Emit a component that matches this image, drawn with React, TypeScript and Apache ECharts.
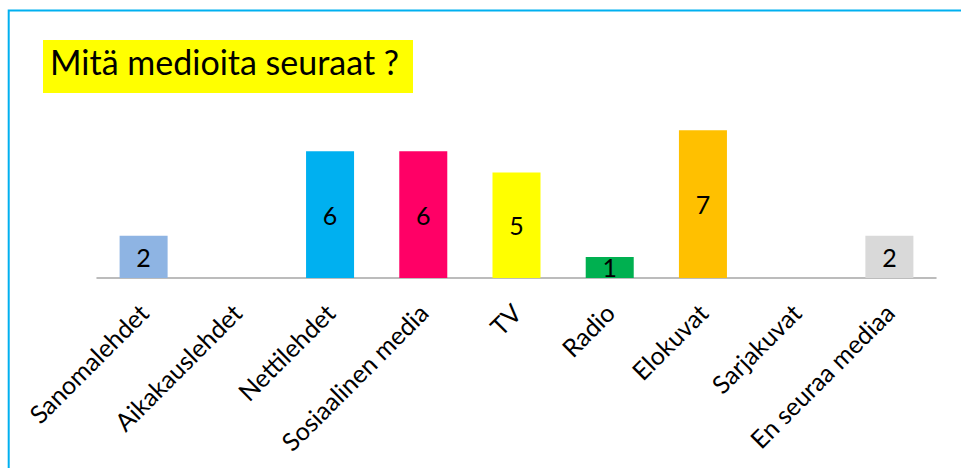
import React, { useEffect, useRef } from "react";
import * as echarts from "echarts";

const categories = [
  "Sanomalehdet",
  "Aikakauslehdet",
  "Nettilehdet",
  "Sosiaalinen media",
  "TV",
  "Radio",
  "Elokuvat",
  "Sarjakuvat",
  "En seuraa mediaa",
];
const values = [2, 0, 6, 6, 5, 1, 7, 0, 2];
const colors = [
  "#8EB4E3",
  "#8EB4E3",
  "#00B0F0",
  "#FF0066",
  "#FFFF00",
  "#00B050",
  "#FFC000",
  "#D9D9D9",
  "#D9D9D9",
];
const titleText = "Mitä medioita seuraat ?";

export default function App() {
  const ref = useRef<HTMLDivElement>(null);
  useEffect(() => {
    if (!ref.current) return;
    const chart = echarts.init(ref.current, null, { renderer: "svg" });
    chart.setOption({
      animation: false,
      backgroundColor: "#ffffff",
      title: {
        text: titleText,
        left: 50,
        top: 44,
        padding: 0,
        textStyle: {
          fontFamily: "Lato",
          fontSize: 34,
          fontWeight: "normal",
          color: "#000000",
        },
        z: 10,
      },
      graphic: [
        {
          type: "rect",
          shape: { x: 43, y: 40, width: 370, height: 53 },
          style: { fill: "#FFFF00" },
          z: 1,
          silent: true,
        },
        {
          type: "polyline",
          shape: { points: [[8.7, 468], [8.7, 10.5], [961, 10.5]] },
          style: { stroke: "#00B0F0", lineWidth: 2, fill: "none" },
          z: 1,
          silent: true,
        },
      ],
      grid: { left: 97, right: 25, top: 109, bottom: 190 },
      xAxis: {
        type: "category",
        data: categories,
        axisLine: { lineStyle: { color: "#A6A6A6", width: 1.5 } },
        axisTick: { show: false },
        axisLabel: {
          interval: 0,
          rotate: 45,
          margin: 30,
          fontFamily: "Lato",
          fontSize: 25,
          color: "#000000",
        },
      },
      yAxis: {
        type: "value",
        min: 0,
        max: 8,
        show: false,
        splitLine: { show: false },
      },
      series: [
        {
          type: "bar",
          barWidth: "51.5%",
          data: values.map((v, i) => ({
            value: v,
            itemStyle: { color: colors[i] },
          })),
          label: {
            show: true,
            position: "inside",
            fontFamily: "Lato",
            fontSize: 25,
            color: "#000000",
            formatter: (p: any) => (p.value === 0 ? "" : String(p.value)),
          },
        },
      ],
    });
    return () => chart.dispose();
  }, []);
  return (
    <div
      ref={ref}
      style={{ position: "fixed", left: 0, top: 0, width: 961, height: 468 }}
    />
  );
}
